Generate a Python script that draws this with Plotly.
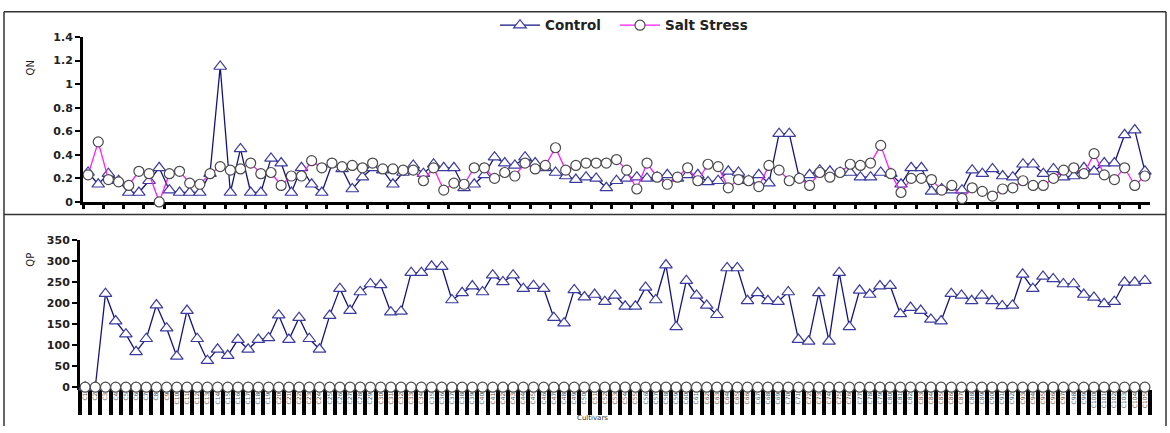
import plotly.graph_objects as go

cultivars = [f"C{i+1}" for i in range(105)]

qn_control = [0.25, 0.15, 0.24, 0.18, 0.08, 0.08, 0.18, 0.29, 0.10, 0.08, 0.08, 0.08, 0.24, 1.15, 0.08,
              0.45, 0.08, 0.08, 0.37, 0.33, 0.08, 0.29, 0.15, 0.08, 0.32, 0.28, 0.11, 0.21, 0.29, 0.27,
              0.15, 0.25, 0.31, 0.24, 0.32, 0.29, 0.29, 0.12, 0.15, 0.23, 0.38, 0.33, 0.31, 0.38, 0.33,
              0.29, 0.25, 0.22, 0.19, 0.21, 0.20, 0.12, 0.18, 0.20, 0.21, 0.20, 0.21, 0.23, 0.20, 0.23,
              0.23, 0.17, 0.18, 0.26, 0.25, 0.18, 0.23, 0.16, 0.58, 0.58, 0.20, 0.23, 0.27, 0.26, 0.25,
              0.25, 0.21, 0.21, 0.25, 0.24, 0.15, 0.29, 0.29, 0.09, 0.11, 0.10, 0.10, 0.27, 0.24, 0.28,
              0.22, 0.21, 0.32, 0.32, 0.24, 0.28, 0.21, 0.22, 0.29, 0.26, 0.33, 0.33, 0.57, 0.61, 0.26]

qn_salt = [0.23, 0.51, 0.19, 0.17, 0.14, 0.26, 0.24, 0.00, 0.24, 0.26, 0.16, 0.15, 0.24, 0.30, 0.27,
           0.28, 0.33, 0.24, 0.25, 0.14, 0.22, 0.22, 0.35, 0.29, 0.33, 0.30, 0.31, 0.29, 0.33, 0.28,
           0.28, 0.27, 0.27, 0.18, 0.29, 0.10, 0.16, 0.15, 0.29, 0.29, 0.20, 0.25, 0.22, 0.33, 0.28,
           0.31, 0.46, 0.27, 0.31, 0.33, 0.33, 0.33, 0.36, 0.27, 0.11, 0.33, 0.21, 0.15, 0.21, 0.29,
           0.18, 0.32, 0.30, 0.12, 0.19, 0.18, 0.13, 0.31, 0.27, 0.18, 0.20, 0.14, 0.25, 0.21, 0.25,
           0.32, 0.31, 0.33, 0.48, 0.24, 0.08, 0.20, 0.20, 0.19, 0.10, 0.14, 0.03, 0.12, 0.09, 0.05,
           0.11, 0.12, 0.18, 0.14, 0.14, 0.20, 0.27, 0.29, 0.24, 0.41, 0.23, 0.19, 0.29, 0.14, 0.22]

qp_control = [0, 0, 222, 157, 126, 84, 115, 195, 140, 73, 182, 115, 63, 90, 75,
              113, 90, 113, 117, 171, 113, 165, 115, 90, 170, 234, 182, 226, 245, 243,
              178, 180, 272, 272, 287, 286, 207, 224, 240, 226, 266, 250, 266, 234, 241,
              234, 165, 152, 231, 214, 220, 203, 218, 192, 192, 237, 207, 290, 143, 253,
              218, 194, 172, 283, 283, 205, 224, 205, 203, 226, 113, 109, 224, 109, 272,
              143, 230, 220, 240, 241, 174, 189, 182, 161, 157, 222, 218, 205, 218, 205,
              193, 194, 268, 234, 263, 257, 245, 245, 220, 213, 198, 203, 249, 249, 253]

qp_salt = [0, 0, 0, 0, 0, 0, 0, 0, 0, 0, 0, 0, 0, 0, 0,
           0, 0, 0, 0, 0, 0, 0, 0, 0, 0, 0, 0, 0, 0, 0,
           0, 0, 0, 0, 0, 0, 0, 0, 0, 0, 0, 0, 0, 0, 0,
           0, 0, 0, 0, 0, 0, 0, 0, 0, 0, 0, 0, 0, 0, 0,
           0, 0, 0, 0, 0, 0, 0, 0, 0, 0, 0, 0, 0, 0, 0,
           0, 0, 0, 0, 0, 0, 0, 0, 0, 0, 0, 0, 0, 0, 0,
           0, 0, 0, 0, 0, 0, 0, 0, 0, 0, 0, 0, 0, 0, 0]

W, H = 1170, 433
CTRL_LINE = "#14147a"
CTRL_MK = "#3b3b9e"
SALT_LINE = "#ff1aff"
SALT_MK = "#4a4a4a"
FONT = "DejaVu Sans"

ctrl_marker = dict(symbol="triangle-up", size=11, color="white", line=dict(color=CTRL_MK, width=1.2))
salt_marker = dict(symbol="circle", size=10, color="white", line=dict(color=SALT_MK, width=1.2))

fig = go.Figure()
fig.add_trace(go.Scatter(x=cultivars, y=qn_control, name="Control", mode="lines+markers",
                         line=dict(color=CTRL_LINE, width=1.3), marker=ctrl_marker,
                         xaxis="x", yaxis="y", cliponaxis=False, legend="legend"))
fig.add_trace(go.Scatter(x=cultivars, y=qn_salt, name="Salt Stress", mode="lines+markers",
                         line=dict(color=SALT_LINE, width=1.3), marker=salt_marker,
                         xaxis="x", yaxis="y", cliponaxis=False, legend="legend2"))
fig.add_trace(go.Scatter(x=cultivars, y=qp_control, name="Control", mode="lines+markers",
                         line=dict(color=CTRL_LINE, width=1.3), marker=ctrl_marker,
                         xaxis="x2", yaxis="y2", cliponaxis=False, showlegend=False))
fig.add_trace(go.Scatter(x=cultivars, y=qp_salt, name="Salt Stress", mode="lines+markers",
                         line=dict(color=SALT_LINE, width=1.3), marker=salt_marker,
                         xaxis="x2", yaxis="y2", cliponaxis=False, showlegend=False))

def px_x(p):
    return p / W

def px_y(p):
    return 1 - p / H

tickfont = dict(family=FONT, size=11, color="#222222", weight="bold")
legfont = dict(family=FONT, size=13.5, color="#222222", weight="bold")

fig.update_layout(
    width=W, height=H,
    margin=dict(l=0, r=0, t=0, b=0),
    paper_bgcolor="white", plot_bgcolor="white",
    showlegend=True,
    legend=dict(orientation="h", x=px_x(495), y=px_y(20), xanchor="left", yanchor="middle",
                font=legfont, bgcolor="rgba(0,0,0,0)", itemwidth=40),
    legend2=dict(orientation="h", x=px_x(615), y=px_y(20), xanchor="left", yanchor="middle",
                 font=legfont, bgcolor="rgba(0,0,0,0)", itemwidth=40),
    xaxis=dict(domain=[px_x(83), px_x(1150)], anchor="y", type="category",
               range=[-0.5, len(cultivars) - 0.5], showgrid=False, zeroline=False,
               showline=True, linecolor="black", linewidth=3, layer="below traces",
               ticks="outside", tickson="boundaries", ticklen=4, tickwidth=3, tickcolor="black",
               showticklabels=False),
    yaxis=dict(domain=[px_y(202), px_y(32)], anchor="x", range=[0, 1.4], dtick=0.2,
               showgrid=False, zeroline=False, showline=True, linecolor="black", linewidth=3,
               ticks="outside", ticklen=5, tickwidth=2, tickcolor="black",
               tickfont=tickfont, tickformat="~g"),
    xaxis2=dict(domain=[px_x(80), px_x(1150)], anchor="y2", type="category",
                range=[-0.5, len(cultivars) - 0.5], showgrid=False, zeroline=False,
                showline=True, linecolor="black", linewidth=3, layer="below traces",
                ticks="outside", tickson="boundaries", ticklen=25, tickwidth=4, tickcolor="black",
                showticklabels=True, tickangle=-90, ticklabelstandoff=0,
                tickfont=dict(family=FONT, size=6, color="#555555")),
    yaxis2=dict(domain=[px_y(393), px_y(241)], anchor="x2", range=[0, 350], dtick=50,
                showgrid=False, zeroline=False, showline=True, linecolor="black", linewidth=3,
                ticks="outside", ticklen=5, tickwidth=2, tickcolor="black",
                tickfont=tickfont),
)

fig.add_annotation(text="QN", x=px_x(23), y=px_y(54), xref="paper", yref="paper",
                   textangle=-90, showarrow=False, font=dict(family=FONT, size=10, color="#222222"))
fig.add_annotation(text="QP", x=px_x(23), y=px_y(262), xref="paper", yref="paper",
                   textangle=-90, showarrow=False, font=dict(family=FONT, size=10, color="#222222"))
fig.add_annotation(text="Cultivars", x=px_x(592), y=px_y(425), xref="paper", yref="paper",
                   xanchor="center", yanchor="middle",
                   showarrow=False, font=dict(family=FONT, size=7, color="#333333"))

frame = dict(color="#333333", width=1.5)
fig.add_shape(type="line", xref="paper", yref="paper", x0=px_x(4), x1=px_x(1166),
              y0=px_y(6), y1=px_y(6), line=frame, layer="below")
fig.add_shape(type="line", xref="paper", yref="paper", x0=px_x(4), x1=px_x(4),
              y0=px_y(6), y1=0, line=frame, layer="below")
fig.add_shape(type="line", xref="paper", yref="paper", x0=px_x(1166), x1=px_x(1166),
              y0=px_y(6), y1=0, line=frame, layer="below")
fig.add_shape(type="line", xref="paper", yref="paper", x0=px_x(4), x1=px_x(1166),
              y0=px_y(215), y1=px_y(215), line=frame, layer="below")

fig.write_html("out.html")
